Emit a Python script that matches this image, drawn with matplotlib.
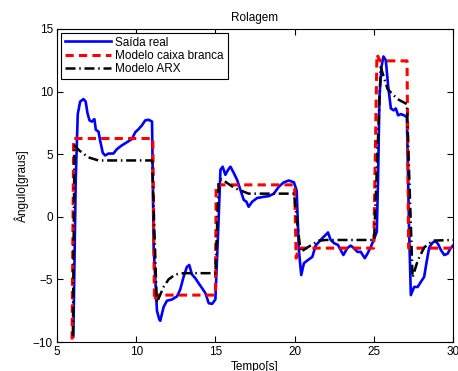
import matplotlib
matplotlib.use('Agg')
import matplotlib.pyplot as plt

# saida real
t_real = [6.03, 6.18, 6.31, 6.46, 6.67, 6.81, 6.92, 7.05, 7.2, 7.36, 7.45, 7.62, 7.72, 7.89,
          8.04, 8.25, 8.56, 8.78, 9.09, 9.41, 9.72, 9.94, 10.15, 10.36, 10.57, 10.78, 11.0,
          11.1, 11.31, 11.46, 11.52, 11.73, 11.94, 12.26, 12.58, 12.78, 12.99, 13.2, 13.35,
          13.52, 13.73, 13.94, 14.16, 14.37, 14.58, 14.79, 15.0, 15.21, 15.32, 15.46, 15.63,
          15.8, 15.95, 16.16, 16.37, 16.58, 16.79, 16.96, 17.1, 17.32, 17.63, 18.06, 18.37,
          18.69, 19.0, 19.32, 19.64, 19.96, 20.13, 20.27, 20.42, 20.59, 20.9, 21.12, 21.33,
          21.54, 21.75, 21.96, 22.11, 22.28, 22.49, 22.74, 22.91, 23.08, 23.33, 23.54, 23.75,
          23.97, 24.18, 24.43, 24.6, 24.81, 24.98, 25.19, 25.27, 25.36, 25.49, 25.61, 25.76,
          25.91, 26.08, 26.25, 26.39, 26.54, 26.71, 26.92, 27.09, 27.23, 27.34, 27.55, 27.77,
          27.97, 28.18, 28.35, 28.5, 28.72, 28.92, 29.07, 29.24, 29.45, 29.66, 29.83, 30.0]
y_real = [-9.56, 2.9, 8.2, 9.2, 9.4, 9.2, 8.3, 7.7, 7.6, 7.8, 6.95, 6.8, 6.1, 5.1,
          4.9, 5.05, 5.05, 5.4, 5.7, 5.95, 6.2, 6.75, 7.0, 7.3, 7.7, 7.75, 7.6,
          -2.4, -7.5, -8.2, -8.3, -7.2, -6.7, -6.6, -6.35, -5.8, -4.8, -4.0, -3.85,
          -4.6, -4.9, -5.3, -5.7, -6.1, -6.9, -6.95, -6.6, 0.0, 3.75, 4.0, 3.35,
          3.75, 4.0, 3.5, 2.95, 2.15, 1.35, 1.2, 0.8, 1.2, 1.5, 1.6, 1.65,
          1.85, 2.4, 2.75, 2.9, 2.75, 2.1, -2.65, -4.65, -3.7, -3.4, -3.2, -2.3,
          -2.0, -1.7, -1.45, -1.25, -1.85, -2.1, -2.25, -2.65, -3.05, -2.5, -2.3, -2.5,
          -2.8, -2.8, -3.3, -2.95, -2.4, -1.9, -1.2, 2.95, 9.6, 12.0, 12.8, 12.5,
          10.4, 8.65, 8.5, 8.65, 8.1, 8.2, 8.1, 7.95, -1.05, -6.25, -5.6, -5.6,
          -5.2, -4.8, -3.5, -2.45, -2.05, -1.95, -2.2, -2.65, -3.05, -2.95, -2.55, -2.3]

# modelo caixa branca
t_cb = [5.95, 6.05, 11.05, 11.15, 11.3, 15.0, 15.05, 20.0, 20.1, 20.25, 25.0, 25.2, 25.4, 27.1, 27.2, 30.0]
y_cb = [-9.8, 6.25, 6.25, -6.7, -6.25, -6.25, 2.55, 2.55, -3.3, -2.5, -2.5, 12.95, 12.45, 12.45, -2.5, -2.5]

# modelo ARX
t_arx = [6.0, 6.1, 6.4, 6.98, 7.61, 11.0, 11.3, 11.73, 12.04, 12.47, 13.0, 15.0, 15.21, 15.4,
         16.2, 17.1, 19.96, 20.38, 21.0, 21.54, 22.0, 25.02, 25.44, 25.87, 26.5, 27.09,
         27.45, 27.77, 28.18, 28.72, 30.0]
y_arx = [-9.5, 5.7, 5.3, 4.75, 4.5, 4.5, -6.85, -5.6, -5.0, -4.6, -4.5, -4.5, 2.8, 3.0,
         2.3, 1.85, 1.85, -2.8, -2.3, -1.9, -1.85, -1.85, 11.95, 10.2, 9.4, 9.0,
         -4.85, -3.5, -2.45, -1.9, -1.85]

plt.rcParams['font.family'] = ['Liberation Sans', 'DejaVu Sans']
plt.rcParams['font.size'] = 8.5

fig = plt.figure(figsize=(4.58, 3.71), dpi=100)
ax = fig.add_axes([0.1245, 0.078, 0.8645, 0.844])

ax.plot(t_real, y_real, color='#0000ff', lw=1.9, label='Saída real')
ax.plot(t_cb, y_cb, color='#ff0000', lw=2.2, ls=(0, (2.7, 1.7)), label='Modelo caixa branca')
ax.plot(t_arx, y_arx, color='black', lw=1.8, ls=(0, (4, 1.5, 0.6, 1.5)), label='Modelo ARX')

ax.set_xlim(5, 30)
ax.set_ylim(-10, 15)
ax.set_xticks([5, 10, 15, 20, 25, 30])
ax.set_yticks([-10, -5, 0, 5, 10, 15])
ax.tick_params(direction='in', top=True, right=True, length=4, labelsize=8.5, pad=3)
ax.set_title('Rolagem', fontsize=8.5, pad=6)
ax.set_xlabel('Tempo[s]', fontsize=8.5, labelpad=2)
ax.set_ylabel('Ângulo[graus]', fontsize=8.5, labelpad=3)

leg = ax.legend(loc='upper left', fontsize=8.5, handlelength=3.9, fancybox=False,
                framealpha=1, edgecolor='black', borderpad=0.3, labelspacing=0.1,
                handletextpad=0.4, borderaxespad=0.35)
leg.get_frame().set_linewidth(0.8)

fig.savefig('out.png', dpi=100)
